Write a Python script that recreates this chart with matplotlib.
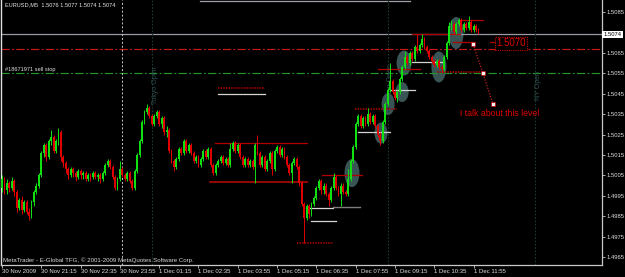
import matplotlib
matplotlib.use("Agg")
import matplotlib.pyplot as plt
import matplotlib.transforms as mtransforms
from matplotlib.patches import Ellipse

plt.rcParams['font.family'] = ['Liberation Sans', 'DejaVu Sans']

# ---------------- data ----------------
opens = [1.4999,1.5003,1.4998,1.5001,1.4999,1.5002,1.4997,1.4989,1.4993,1.4988,
         1.4992,1.4987,1.4985,1.4992,1.4997,1.5000,1.5005,1.5016,1.5020,1.5014,
         1.5022,1.5024,1.5017,1.5022,1.5026,1.5014,1.5011,1.5008,1.5005,1.5008,
         1.5006,1.5004,1.5007,1.5005,1.5006,1.5003,1.5005,1.5004,1.5006,1.5004,
         1.5005,1.5003,1.5006,1.5010,1.5012,1.5009,1.5004,1.4999,1.5003,1.5008,
         1.5005,1.5003,1.5006,1.5002,1.4999,1.5007,1.5015,1.5022,1.5031,1.5036,
         1.5038,1.5034,1.5030,1.5034,1.5036,1.5030,1.5033,1.5026,1.5027,1.5017,
         1.5012,1.5009,1.5013,1.5018,1.5016,1.5022,1.5017,1.5020,1.5016,1.5012,
         1.5014,1.5010,1.5013,1.5017,1.5014,1.5018,1.5010,1.5006,1.5010,1.5012,
         1.5014,1.5011,1.5013,1.5010,1.5018,1.5021,1.5017,1.5020,1.5014,1.5010,
         1.5013,1.5010,1.5012,1.5009,1.5020,1.5016,1.5010,1.5014,1.5008,1.5012,
         1.5016,1.5008,1.5017,1.5019,1.5015,1.5018,1.5014,1.5010,1.5006,1.5011,
         1.5013,1.5009,1.5001,1.4991,1.4984,1.4990,1.4986,1.4991,1.4994,1.4999,
         1.5002,1.4998,1.5000,1.4996,1.4993,1.4999,1.5004,1.4999,1.4996,1.5000,
         1.4997,1.4996,1.5003,1.5012,1.5019,1.5030,1.5034,1.5029,1.5033,1.5030,
         1.5035,1.5031,1.5034,1.5029,1.5025,1.5022,1.5031,1.5040,1.5047,1.5051,
         1.5046,1.5043,1.5046,1.5052,1.5058,1.5063,1.5060,1.5065,1.5062,1.5068,
         1.5066,1.5069,1.5072,1.5068,1.5066,1.5063,1.5061,1.5059,1.5061,1.5058,
         1.5057,1.5063,1.5070,1.5078,1.5079,1.5075,1.5079,1.5081,1.5076,1.5079,
         1.5077,1.5080,1.5076,1.5078,1.5076]
highs = [1.5005,1.5004,1.5003,1.5002,1.5004,1.5003,1.4998,1.4994,1.4995,1.4993,
         1.4993,1.4989,1.4993,1.4998,1.5001,1.5006,1.5017,1.5021,1.5021,1.5023,
         1.5027,1.5025,1.5023,1.5028,1.5027,1.5015,1.5012,1.5009,1.5009,1.5009,
         1.5007,1.5008,1.5008,1.5007,1.5007,1.5006,1.5006,1.5007,1.5007,1.5006,
         1.5006,1.5007,1.5011,1.5013,1.5013,1.5010,1.5005,1.5004,1.5012,1.5009,
         1.5006,1.5007,1.5007,1.5003,1.5008,1.5016,1.5023,1.5032,1.5037,1.5040,
         1.5039,1.5035,1.5035,1.5037,1.5037,1.5034,1.5034,1.5029,1.5028,1.5018,
         1.5013,1.5014,1.5019,1.5019,1.5023,1.5023,1.5021,1.5021,1.5017,1.5015,
         1.5015,1.5014,1.5018,1.5018,1.5019,1.5019,1.5011,1.5011,1.5013,1.5015,
         1.5015,1.5014,1.5014,1.5021,1.5022,1.5022,1.5021,1.5021,1.5015,1.5014,
         1.5014,1.5013,1.5013,1.5021,1.5025,1.5017,1.5015,1.5015,1.5013,1.5017,
         1.5017,1.5018,1.5020,1.5020,1.5019,1.5019,1.5015,1.5011,1.5012,1.5014,
         1.5014,1.5010,1.5002,1.4992,1.4991,1.4991,1.4992,1.4995,1.5000,1.5003,
         1.5003,1.5001,1.5001,1.4997,1.5000,1.5006,1.5005,1.5000,1.5001,1.5001,
         1.4998,1.5008,1.5013,1.5020,1.5031,1.5035,1.5035,1.5034,1.5034,1.5038,
         1.5036,1.5035,1.5035,1.5030,1.5026,1.5032,1.5041,1.5048,1.5060,1.5052,
         1.5047,1.5047,1.5053,1.5059,1.5066,1.5064,1.5066,1.5066,1.5069,1.5074,
         1.5070,1.5074,1.5073,1.5069,1.5067,1.5064,1.5062,1.5062,1.5062,1.5059,
         1.5064,1.5071,1.5080,1.5081,1.5080,1.5080,1.5082,1.5082,1.5080,1.5080,
         1.5083,1.5081,1.5079,1.5079,1.5077]
lows = [1.4997,1.4996,1.4996,1.4997,1.4998,1.4995,1.4987,1.4988,1.4986,1.4987,
        1.4986,1.4983,1.4984,1.4990,1.4996,1.4999,1.5004,1.5014,1.5012,1.5013,
        1.5020,1.5016,1.5016,1.5020,1.5012,1.5009,1.5006,1.5003,1.5004,1.5004,
        1.5002,1.5003,1.5003,1.5003,1.5002,1.5002,1.5002,1.5003,1.5003,1.5002,
        1.5001,1.5002,1.5005,1.5009,1.5008,1.5003,1.4998,1.4998,1.5002,1.5004,
        1.5002,1.5002,1.5001,1.4998,1.4998,1.5006,1.5014,1.5021,1.5030,1.5035,
        1.5033,1.5029,1.5029,1.5033,1.5029,1.5028,1.5025,1.5024,1.5016,1.5011,
        1.5007,1.5008,1.5012,1.5015,1.5015,1.5016,1.5016,1.5015,1.5011,1.5011,
        1.5009,1.5009,1.5012,1.5013,1.5013,1.5009,1.5005,1.5005,1.5009,1.5011,
        1.5010,1.5010,1.5009,1.5009,1.5017,1.5016,1.5016,1.5013,1.5009,1.5009,
        1.5009,1.5009,1.5008,1.5001,1.5015,1.5009,1.5009,1.5007,1.5007,1.5011,
        1.5005,1.5007,1.5016,1.5014,1.5014,1.5013,1.5009,1.5005,1.5001,1.5010,
        1.5008,1.5000,1.4990,1.4972,1.4983,1.4984,1.4985,1.4990,1.4993,1.4998,
        1.4996,1.4996,1.4995,1.4990,1.4992,1.4998,1.4998,1.4995,1.4990,1.4996,
        1.4995,1.4995,1.5002,1.5011,1.5018,1.5029,1.5028,1.5028,1.5029,1.5029,
        1.5030,1.5030,1.5028,1.5024,1.5020,1.5021,1.5030,1.5039,1.5046,1.5045,
        1.5042,1.5041,1.5045,1.5051,1.5057,1.5059,1.5059,1.5061,1.5061,1.5065,
        1.5065,1.5068,1.5067,1.5065,1.5062,1.5060,1.5058,1.5058,1.5057,1.5055,
        1.5056,1.5062,1.5069,1.5076,1.5074,1.5074,1.5078,1.5075,1.5075,1.5076,
        1.5076,1.5075,1.5075,1.5075,1.5074]
closes = [1.5003,1.4998,1.5001,1.4999,1.5002,1.4997,1.4989,1.4993,1.4988,1.4992,
          1.4987,1.4985,1.4992,1.4997,1.5000,1.5005,1.5016,1.5020,1.5014,1.5022,
          1.5024,1.5017,1.5022,1.5026,1.5014,1.5011,1.5008,1.5005,1.5008,1.5006,
          1.5004,1.5007,1.5005,1.5006,1.5003,1.5005,1.5004,1.5006,1.5004,1.5005,
          1.5003,1.5006,1.5010,1.5012,1.5009,1.5004,1.4999,1.5003,1.5008,1.5005,
          1.5003,1.5006,1.5002,1.4999,1.5007,1.5015,1.5022,1.5031,1.5036,1.5038,
          1.5034,1.5030,1.5034,1.5036,1.5030,1.5033,1.5026,1.5027,1.5017,1.5012,
          1.5009,1.5013,1.5018,1.5016,1.5022,1.5017,1.5020,1.5016,1.5012,1.5014,
          1.5010,1.5013,1.5017,1.5014,1.5018,1.5010,1.5006,1.5010,1.5012,1.5014,
          1.5011,1.5013,1.5010,1.5018,1.5021,1.5017,1.5020,1.5014,1.5010,1.5013,
          1.5010,1.5012,1.5009,1.5020,1.5016,1.5010,1.5014,1.5008,1.5012,1.5016,
          1.5008,1.5017,1.5019,1.5015,1.5018,1.5014,1.5010,1.5006,1.5011,1.5013,
          1.5009,1.5001,1.4991,1.4984,1.4990,1.4986,1.4991,1.4994,1.4999,1.5002,
          1.4998,1.5000,1.4996,1.4993,1.4999,1.5004,1.4999,1.4996,1.5000,1.4997,
          1.4996,1.5003,1.5012,1.5019,1.5030,1.5034,1.5029,1.5033,1.5030,1.5035,
          1.5031,1.5034,1.5029,1.5025,1.5022,1.5031,1.5040,1.5047,1.5051,1.5046,
          1.5043,1.5046,1.5052,1.5058,1.5063,1.5060,1.5065,1.5062,1.5068,1.5066,
          1.5069,1.5072,1.5068,1.5066,1.5063,1.5061,1.5059,1.5061,1.5058,1.5057,
          1.5063,1.5070,1.5078,1.5079,1.5075,1.5079,1.5081,1.5076,1.5079,1.5077,
          1.5080,1.5076,1.5078,1.5076,1.5074]

time_tick_idx = [0, 16, 32, 48, 64, 80, 96, 112, 128, 144, 160, 176, 192]
time_tick_labels = ['30 Nov 2009', '30 Nov 21:15', '30 Nov 22:35', '30 Nov 23:55',
                    '1 Dec 01:15', '1 Dec 02:35', '1 Dec 03:55', '1 Dec 05:15',
                    '1 Dec 06:35', '1 Dec 07:55', '1 Dec 09:15', '1 Dec 10:35',
                    '1 Dec 11:55']
price_ticks = [1.5085, 1.5065, 1.5055, 1.5045, 1.5035, 1.5025, 1.5015,
               1.5005, 1.4995, 1.4985, 1.4975, 1.4965]

title_text = 'EURUSD,M5  1.5076 1.5077 1.5074 1.5074'
current_price = 1.5074
red_order_level = 1.50669
sell_stop_level = 1.50551
sell_stop_label = '#18671971 sell stop'
top_line = (80.6, 166.1, 1.50904)

day_separator_idx = 49
session_idx = [61, 157, 217]
session_names = ['Tokyo Open', 'London Open', 'NY Open']
session_label_price = 1.50492

# short horizontal level lines: start bar, end bar, price, kind
level_start = [87.9, 87.9, 86.7, 84.7, 120.1, 123.8, 134.8, 125.8, 130.3, 143.7,
               145.0, 158.0, 153.1, 177.1, 166.9, 166.9, 183.6, 186.1, 198.7]
level_end = [107.1, 107.1, 124.2, 124.2, 134.8, 134.8, 145.8, 136.0, 146.6, 160.8,
             158.0, 168.2, 170.2, 195.8, 179.6, 186.5, 191.8, 195.8, 200.7]
level_price = [1.50478, 1.50448, 1.50208, 1.50017, 1.49719, 1.49890, 1.49895,
               1.49826, 1.50052, 1.50375, 1.50262, 1.50468, 1.50571, 1.50556,
               1.50605, 1.50742, 1.50703, 1.50811, 1.50703]
level_kind = ['red_dot', 'white', 'red', 'red_thick', 'red_dot', 'white', 'grey',
              'white', 'red', 'red_dot', 'white', 'white', 'red', 'red_dot',
              'white', 'red', 'red', 'red', 'red']

# highlighted ellipses: centre bar, centre price, width (bars), height (price)
ell_x = [142.5, 154.3, 157.2, 162.9, 163.7, 177.9, 184.9]
ell_y = [1.50061, 1.50257, 1.50399, 1.50458, 1.50600, 1.50581, 1.50747]
ell_w = [6.1, 5.3, 5.3, 5.3, 6.1, 6.1, 6.1]
ell_h = [0.00137, 0.00103, 0.00108, 0.00098, 0.00122, 0.00152, 0.00157]

# dotted trendline with anchors
trend_x = [191.8, 195.8, 199.9]
trend_y = [1.50693, 1.50551, 1.50399]

box_label = '1.5070'
box_pos = (207.2, 1.50696)
note_text = 'I talk about this level'
note_pos = (202.8, 1.50355)
footer = 'MetaTrader - E-Global TFG, \u00a9 2001-2009 MetaQuotes Software Corp.'

# ---------------- figure ----------------
W, H = 625, 277
fig = plt.figure(figsize=(W / 100, H / 100), dpi=100, facecolor='#000000')
ax = fig.add_axes([1 / W, 12 / H, 601 / W, 265 / H])
ax.set_facecolor('#000000')
ax.set_xlim(-0.41, 244.3)
ax.set_ylim(1.496108, 1.509088)

AXC = '#c8c8c8'
ax.spines['top'].set_visible(False)
ax.spines['left'].set_color('#e0e0e0')
ax.spines['left'].set_linewidth(1.0)
ax.spines['right'].set_color(AXC)
ax.spines['bottom'].set_color(AXC)
ax.spines['right'].set_linewidth(0.9)
ax.spines['bottom'].set_linewidth(0.9)

# ellipses
for cx, cy, w, h in zip(ell_x, ell_y, ell_w, ell_h):
    ax.add_patch(Ellipse((cx, cy), w, h, facecolor='#405e5e', edgecolor='none',
                         alpha=0.9, zorder=1))

# full-width lines
ax.axhline(current_price, color='#9a9aa6', lw=0.9, zorder=2)
ax.axhline(red_order_level, color='#c81818', lw=0.85, ls=(0, (7, 2, 1.5, 2)), zorder=2)
ax.axhline(sell_stop_level, color='#22962a', lw=0.85, ls=(0, (7, 2, 1.5, 2)), zorder=2)
ax.plot([top_line[0], top_line[1]], [top_line[2], top_line[2]], color='#a0a0a8', lw=0.9, zorder=2)

# vertical separators
ax.axvline(day_separator_idx, color='#c8c8c8', lw=0.7, ls=(0, (2, 2)), zorder=2)
for si, name in zip(session_idx, session_names):
    ax.axvline(si, color='#1f3a30', lw=0.8, ls=(0, (1.5, 1.5)), zorder=2)
    ax.text(si + 1.3, session_label_price, name, rotation=90, ha='center', va='center',
            color='#2f4f4f', fontsize=5, zorder=2)

# level segments
styles = {
    'red': dict(color='#b00000', lw=0.9, ls='-'),
    'red_thick': dict(color='#a00808', lw=1.3, ls='-'),
    'red_dot': dict(color='#b00000', lw=1.1, ls=(0, (1, 0.7))),
    'white': dict(color='#d4d4d4', lw=0.9, ls='-'),
    'grey': dict(color='#7c7c7c', lw=1.0, ls='-'),
}
for x0, x1, p, k in zip(level_start, level_end, level_price, level_kind):
    ax.plot([x0, x1], [p, p], zorder=2.5, **styles[k])

# candles
idx = list(range(len(closes)))
up_col, dn_col = '#10e010', '#e00000'
cols = [up_col if c >= o else dn_col for o, c in zip(opens, closes)]
ax.vlines(idx, lows, highs, colors=cols, lw=0.7, zorder=3)
bottoms = [min(o, c) for o, c in zip(opens, closes)]
heights = [max(abs(c - o), 0.00003) for o, c in zip(opens, closes)]
ax.bar(idx, heights, bottom=bottoms, width=0.75, color=cols, linewidth=0, zorder=3)

# trendline with anchor squares
ax.plot(trend_x, trend_y, color='#c02020', lw=0.9, ls=(0, (1, 1.3)), zorder=4)
ax.plot(trend_x, trend_y, ls='none', marker='s', ms=2.6, mfc='#f0f0f0',
        mec='#c00000', mew=0.5, zorder=5)

# annotations
ax.text(box_pos[0], box_pos[1], box_label, color='#e00000', fontsize=7,
        ha='center', va='center', zorder=5,
        bbox=dict(boxstyle='square,pad=0.15', facecolor='#000000',
                  edgecolor='#c00000', linestyle=(0, (1, 1)), linewidth=0.8))
ax.text(note_pos[0], note_pos[1], note_text, color='#e00000', fontsize=6.3,
        ha='center', va='center', zorder=5)

ax.text(0.007, 0.99, title_text, transform=ax.transAxes, ha='left', va='top',
        color='#e8e8e8', fontsize=4.05)
ax.text(1.2, sell_stop_level + 0.00004, sell_stop_label, ha='left', va='bottom',
        color='#e0e0e0', fontsize=4.1)
ax.text(0.004, 0.008, footer, transform=ax.transAxes, ha='left', va='bottom',
        color='#d8d8d8', fontsize=4.4)

# axes ticks
ax.yaxis.tick_right()
ax.set_yticks(price_ticks)
ax.set_yticklabels(['%.4f' % p for p in price_ticks])
ax.tick_params(axis='y', colors=AXC, labelcolor='#e0e0e0', labelsize=4.2,
               length=2, width=0.6, pad=1.5)
ax.set_xticks(time_tick_idx)
ax.set_xticklabels(time_tick_labels)
for lab in ax.get_xticklabels():
    lab.set_horizontalalignment('left')
ax.tick_params(axis='x', colors=AXC, labelcolor='#e0e0e0', labelsize=4.3,
               length=2, width=0.6, pad=1.2)

trans = mtransforms.blended_transform_factory(ax.transAxes, ax.transData)
ax.text(1.003, current_price, '%.4f' % current_price, transform=trans,
        ha='left', va='center', color='#000000', fontsize=4.2, zorder=6,
        bbox=dict(boxstyle='square,pad=0.25', facecolor='#ffffff', edgecolor='none'),
        clip_on=False)

fig.savefig('out.png', dpi=100, facecolor=fig.get_facecolor())
